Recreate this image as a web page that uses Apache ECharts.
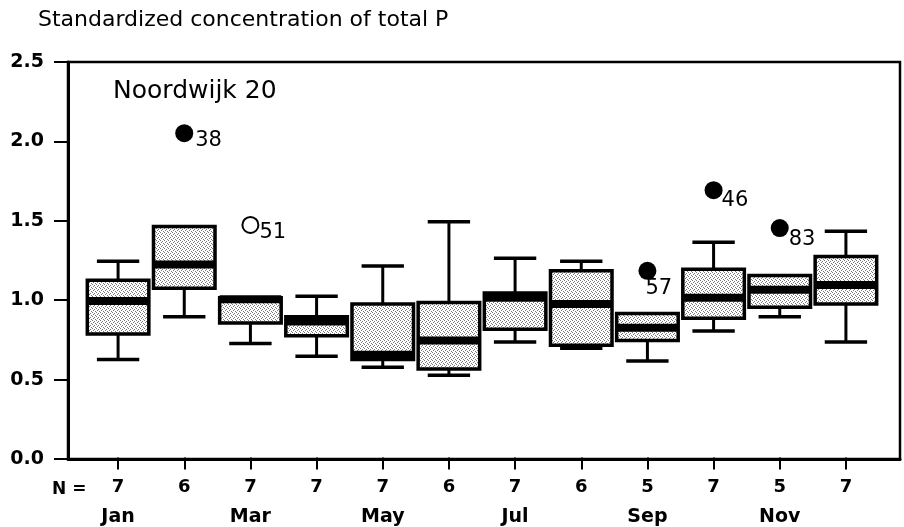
<!DOCTYPE html>
<html>
<head>
<meta charset="utf-8">
<style>
  html, body { margin: 0; padding: 0; background: #fff; }
  #chart { width: 904px; height: 527px; }
</style>
<script src="https://cdn.jsdelivr.net/npm/echarts@6/dist/echarts.min.js"></script>
</head>
<body>
<div id="chart"></div>
<script>
// monthly box plots, standardized total P, Noordwijk 20
const months = ["Jan", "Feb", "Mar", "Apr", "May", "Jun", "Jul", "Aug", "Sep", "Oct", "Nov", "Dec"];
const nCounts = [7, 6, 7, 7, 7, 6, 7, 6, 5, 7, 5, 7];
const whiskerLow = [0.62, 0.89, 0.72, 0.64, 0.57, 0.52, 0.73, 0.69, 0.61, 0.80, 0.89, 0.73];
const q1 = [0.78, 1.07, 0.85, 0.77, 0.62, 0.56, 0.81, 0.71, 0.74, 0.88, 0.95, 0.97];
const median = [0.99, 1.22, 1.00, 0.86, 0.65, 0.74, 1.01, 0.97, 0.82, 1.01, 1.06, 1.09];
const q3 = [1.12, 1.46, 1.01, 0.89, 0.97, 0.98, 1.04, 1.18, 0.91, 1.19, 1.15, 1.27];
const whiskerHigh = [1.24, 1.46, 1.01, 1.02, 1.21, 1.49, 1.26, 1.24, 0.91, 1.36, 1.15, 1.43];

// extremes (filled) and outliers (open), with case numbers
const extremeMonth = [1, 8, 9, 10];
const extremeValue = [2.05, 1.18, 1.69, 1.45];
const extremeCase = ["38", "57", "46", "83"];
const outlierMonth = [2];
const outlierValue = [1.47];
const outlierCase = ["51"];

// label offsets for the case numbers (style only)
const extremeLabelPos = [[20, 16], [7, 27], [17, 19], [18, 20]];
const outlierLabelPos = [[18, 17]];

const FONT = "DejaVu Sans";

// stipple fill for the boxes
function stipple() {
  const c = document.createElement("canvas");
  c.width = 4; c.height = 4;
  const g = c.getContext("2d");
  g.fillStyle = "#fff";
  g.fillRect(0, 0, 4, 4);
  g.fillStyle = "#777";
  [[0, 0], [2, 1], [1, 2], [3, 3]].forEach(([x, y]) => g.fillRect(x, y, 1, 1));
  return { image: c, repeat: "repeat" };
}
const boxFill = stipple();

const boxData = months.map((m, i) => [i, whiskerLow[i], q1[i], median[i], q3[i], whiskerHigh[i]]);

function renderBox(params, api) {
  const i = api.value(0);
  const band = api.size([1, 0])[0];
  const bw = band * 0.93;
  const cw = band * 0.64;
  const x = api.coord([i, 0])[0];
  const yl = api.coord([i, api.value(1)])[1];
  const y1 = api.coord([i, api.value(2)])[1];
  const ym = api.coord([i, api.value(3)])[1];
  const y3 = api.coord([i, api.value(4)])[1];
  const yh = api.coord([i, api.value(5)])[1];
  const line = { stroke: "#000", lineWidth: 3 };
  const cap = { stroke: "#000", lineWidth: 3.5 };
  const children = [];
  if (yh < y3 - 1) {
    children.push({ type: "line", shape: { x1: x, y1: yh, x2: x, y2: y3 }, style: line });
    children.push({ type: "line", shape: { x1: x - cw / 2, y1: yh, x2: x + cw / 2, y2: yh }, style: cap });
  }
  if (yl > y1 + 1) {
    children.push({ type: "line", shape: { x1: x, y1: y1, x2: x, y2: yl }, style: line });
    children.push({ type: "line", shape: { x1: x - cw / 2, y1: yl, x2: x + cw / 2, y2: yl }, style: cap });
  }
  children.push({
    type: "rect",
    shape: { x: x - bw / 2, y: y3, width: bw, height: y1 - y3 },
    style: { fill: boxFill, stroke: "#000", lineWidth: 3.5 }
  });
  children.push({
    type: "rect",
    shape: { x: x - bw / 2, y: ym - 4, width: bw, height: 8 },
    style: { fill: "#000" }
  });
  return { type: "group", children: children };
}

const chart = echarts.init(document.getElementById("chart"), null, { renderer: "canvas" });

chart.setOption({
  backgroundColor: "#fff",
  animation: false,
  title: [
    {
      text: "Standardized concentration of total P",
      left: 33, top: 4,
      textStyle: { fontFamily: FONT, fontSize: 22, fontWeight: "normal", color: "#000" }
    },
    {
      text: "Noordwijk 20",
      left: 108, top: 74,
      textStyle: { fontFamily: FONT, fontSize: 25, fontWeight: "normal", color: "#000" }
    }
  ],
  graphic: [
    {
      type: "text", left: 52, top: 481,
      style: { text: "N =", font: "bold 17px " + FONT, fill: "#000" }
    }
  ],
  grid: [
    { left: 68, right: 4, top: 62, bottom: 68, show: true, borderColor: "#000", borderWidth: 2.5 },
    { left: 85, right: 25, top: 62, bottom: 68 }
  ],
  xAxis: [
    {
      gridIndex: 0, type: "value", min: 0, max: 1,
      axisLine: { show: true, lineStyle: { color: "#000", width: 3 } },
      axisTick: { show: false }, axisLabel: { show: false }, splitLine: { show: false }
    },
    {
      gridIndex: 1, type: "category", data: months, boundaryGap: true,
      axisLine: { show: false },
      axisTick: { show: true, alignWithLabel: true, length: 12, lineStyle: { color: "#000", width: 2 } },
      axisLabel: {
        interval: 0, margin: 15,
        formatter: (v, i) => "{n|" + nCounts[i] + "}\n{m|" + (i % 2 === 0 ? v : "\u00a0") + "}",
        rich: {
          n: { fontFamily: FONT, fontSize: 18, fontWeight: "bold", color: "#000", lineHeight: 30 },
          m: { fontFamily: FONT, fontSize: 19, fontWeight: "bold", color: "#000", lineHeight: 30 }
        }
      },
      splitLine: { show: false }
    }
  ],
  yAxis: [
    {
      gridIndex: 0, type: "value", min: 0, max: 2.5, interval: 0.5,
      axisLine: { show: true, lineStyle: { color: "#000", width: 3 } },
      axisTick: { show: true, inside: false, length: 14, lineStyle: { color: "#000", width: 2 } },
      axisLabel: {
        margin: 24, color: "#000", fontFamily: FONT, fontSize: 19, fontWeight: "bold",
        formatter: (v) => v.toFixed(1)
      },
      splitLine: { show: false }
    },
    { gridIndex: 1, type: "value", min: 0, max: 2.5, show: false }
  ],
  series: [
    {
      type: "custom", xAxisIndex: 1, yAxisIndex: 1,
      renderItem: renderBox,
      encode: { x: 0, y: [1, 2, 3, 4, 5] },
      data: boxData,
      z: 2
    },
    {
      type: "scatter", xAxisIndex: 1, yAxisIndex: 1,
      symbol: "circle", symbolSize: 18,
      itemStyle: { color: "#000", opacity: 1 },
      data: extremeMonth.map((m, i) => ({
        value: [m, extremeValue[i]],
        label: {
          show: true, formatter: extremeCase[i], position: extremeLabelPos[i],
          align: "left", verticalAlign: "middle",
          fontFamily: FONT, fontSize: 21, color: "#000"
        }
      })),
      z: 3
    },
    {
      type: "scatter", xAxisIndex: 1, yAxisIndex: 1,
      symbol: "circle", symbolSize: 16,
      itemStyle: { color: "#fff", borderColor: "#000", borderWidth: 2, opacity: 1 },
      data: outlierMonth.map((m, i) => ({
        value: [m, outlierValue[i]],
        label: {
          show: true, formatter: outlierCase[i], position: outlierLabelPos[i],
          align: "left", verticalAlign: "middle",
          fontFamily: FONT, fontSize: 21, color: "#000"
        }
      })),
      z: 3
    }
  ]
});
</script>
</body>
</html>
